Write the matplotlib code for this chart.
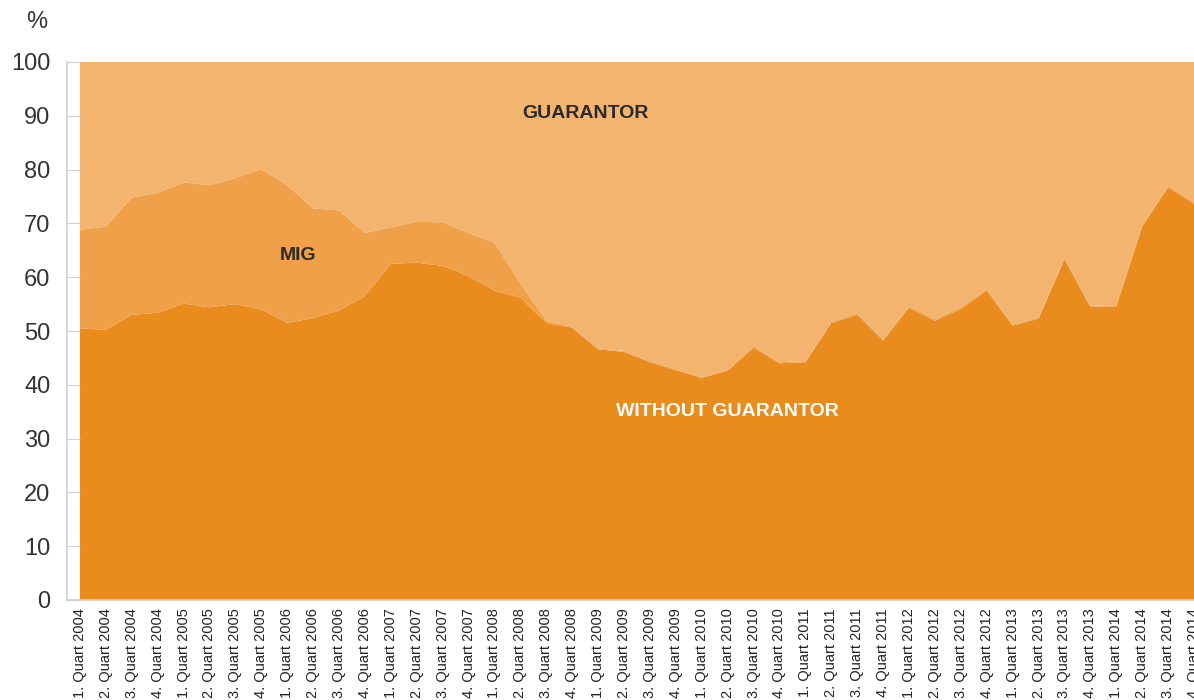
import matplotlib
matplotlib.use("Agg")
import matplotlib.pyplot as plt
import numpy as np

# Quartale 2004-2014
quarters = [f"{q}. Quart {y}" for y in range(2004, 2015) for q in range(1, 5)]

# Anteil ohne Bürgen (unterste Fläche), in %
without_guarantor = [50.5, 50.2, 53.0, 53.4, 55.1, 54.4, 55.0, 54.0, 51.5, 52.4,
                     53.8, 56.5, 62.5, 62.7, 62.1, 60.2, 57.5, 56.2, 51.5, 50.6,
                     46.6, 46.1, 44.2, 42.7, 41.3, 42.6, 46.9, 44.0, 44.2, 51.5,
                     53.0, 48.2, 54.3, 51.9, 54.1, 57.5, 51.0, 52.3, 63.3, 54.5,
                     54.6, 69.4, 76.7, 73.6]

# Oberkante der MIG-Fläche (ohne Bürgen + MIG), in %
mig_top = [68.8, 69.4, 74.8, 75.7, 77.6, 77.1, 78.4, 80.1, 77.1, 72.8,
           72.4, 68.2, 69.3, 70.3, 70.2, 68.2, 66.4, 58.9, 51.9, 50.8,
           46.8, 46.3, 44.4, 42.9, 41.4, 42.8, 47.2, 44.2, 44.4, 51.7,
           53.3, 48.5, 54.6, 52.2, 54.4, 57.8, 51.2, 52.5, 63.7, 54.7,
           54.8, 69.7, 77.0, 73.9]

mig = [t - w for t, w in zip(mig_top, without_guarantor)]
guarantor = [100 - t for t in mig_top]

c_without = "#EA8B1D"
c_mig = "#F0A048"
c_guar = "#F3B470"

plt.rcParams['font.family'] = ['Liberation Sans Narrow', 'Liberation Sans', 'DejaVu Sans']

fig = plt.figure(figsize=(11.94, 7.0), dpi=100)
ax = fig.add_axes([67 / 1194, 1 - 600 / 700, 1127 / 1194, 538 / 700])

x = np.arange(len(quarters))
ax.stackplot(x, without_guarantor, mig, guarantor,
             colors=[c_without, c_mig, c_guar], linewidth=0)

ax.set_xlim(-0.5, len(quarters) - 1)
ax.set_ylim(0, 100)

ax.set_yticks(range(0, 101, 10))
ax.tick_params(axis='y', direction='in', length=9.5, color='#d0d0d0',
               labelsize=17, labelcolor='#333333', pad=12)
ax.set_xticks(x)
ax.set_xticklabels(quarters, rotation=90, fontsize=10.5, color='#222222')
ax.tick_params(axis='x', length=0, pad=6)

for side in ['top', 'right']:
    ax.spines[side].set_visible(False)
for side in ['left', 'bottom']:
    ax.spines[side].set_color('#d0d0d0')
    ax.spines[side].set_linewidth(1.2)

# Beschriftung der Flächen
ax.text(19.5, 90.5, "GUARANTOR", fontsize=14, fontweight='bold',
        color='#2a2a2a', ha='center', va='center')
ax.text(8.4, 64.1, "MIG", fontsize=14, fontweight='bold',
        color='#2a2a2a', ha='center', va='center')
ax.text(25.0, 35.0, "WITHOUT GUARANTOR", fontsize=14, fontweight='bold',
        color='white', ha='center', va='center')

fig.text(37 / 1194, 1 - 22 / 700, "%", fontsize=17, color='#333333',
         ha='center', va='center')

fig.savefig("out.png", dpi=100)
